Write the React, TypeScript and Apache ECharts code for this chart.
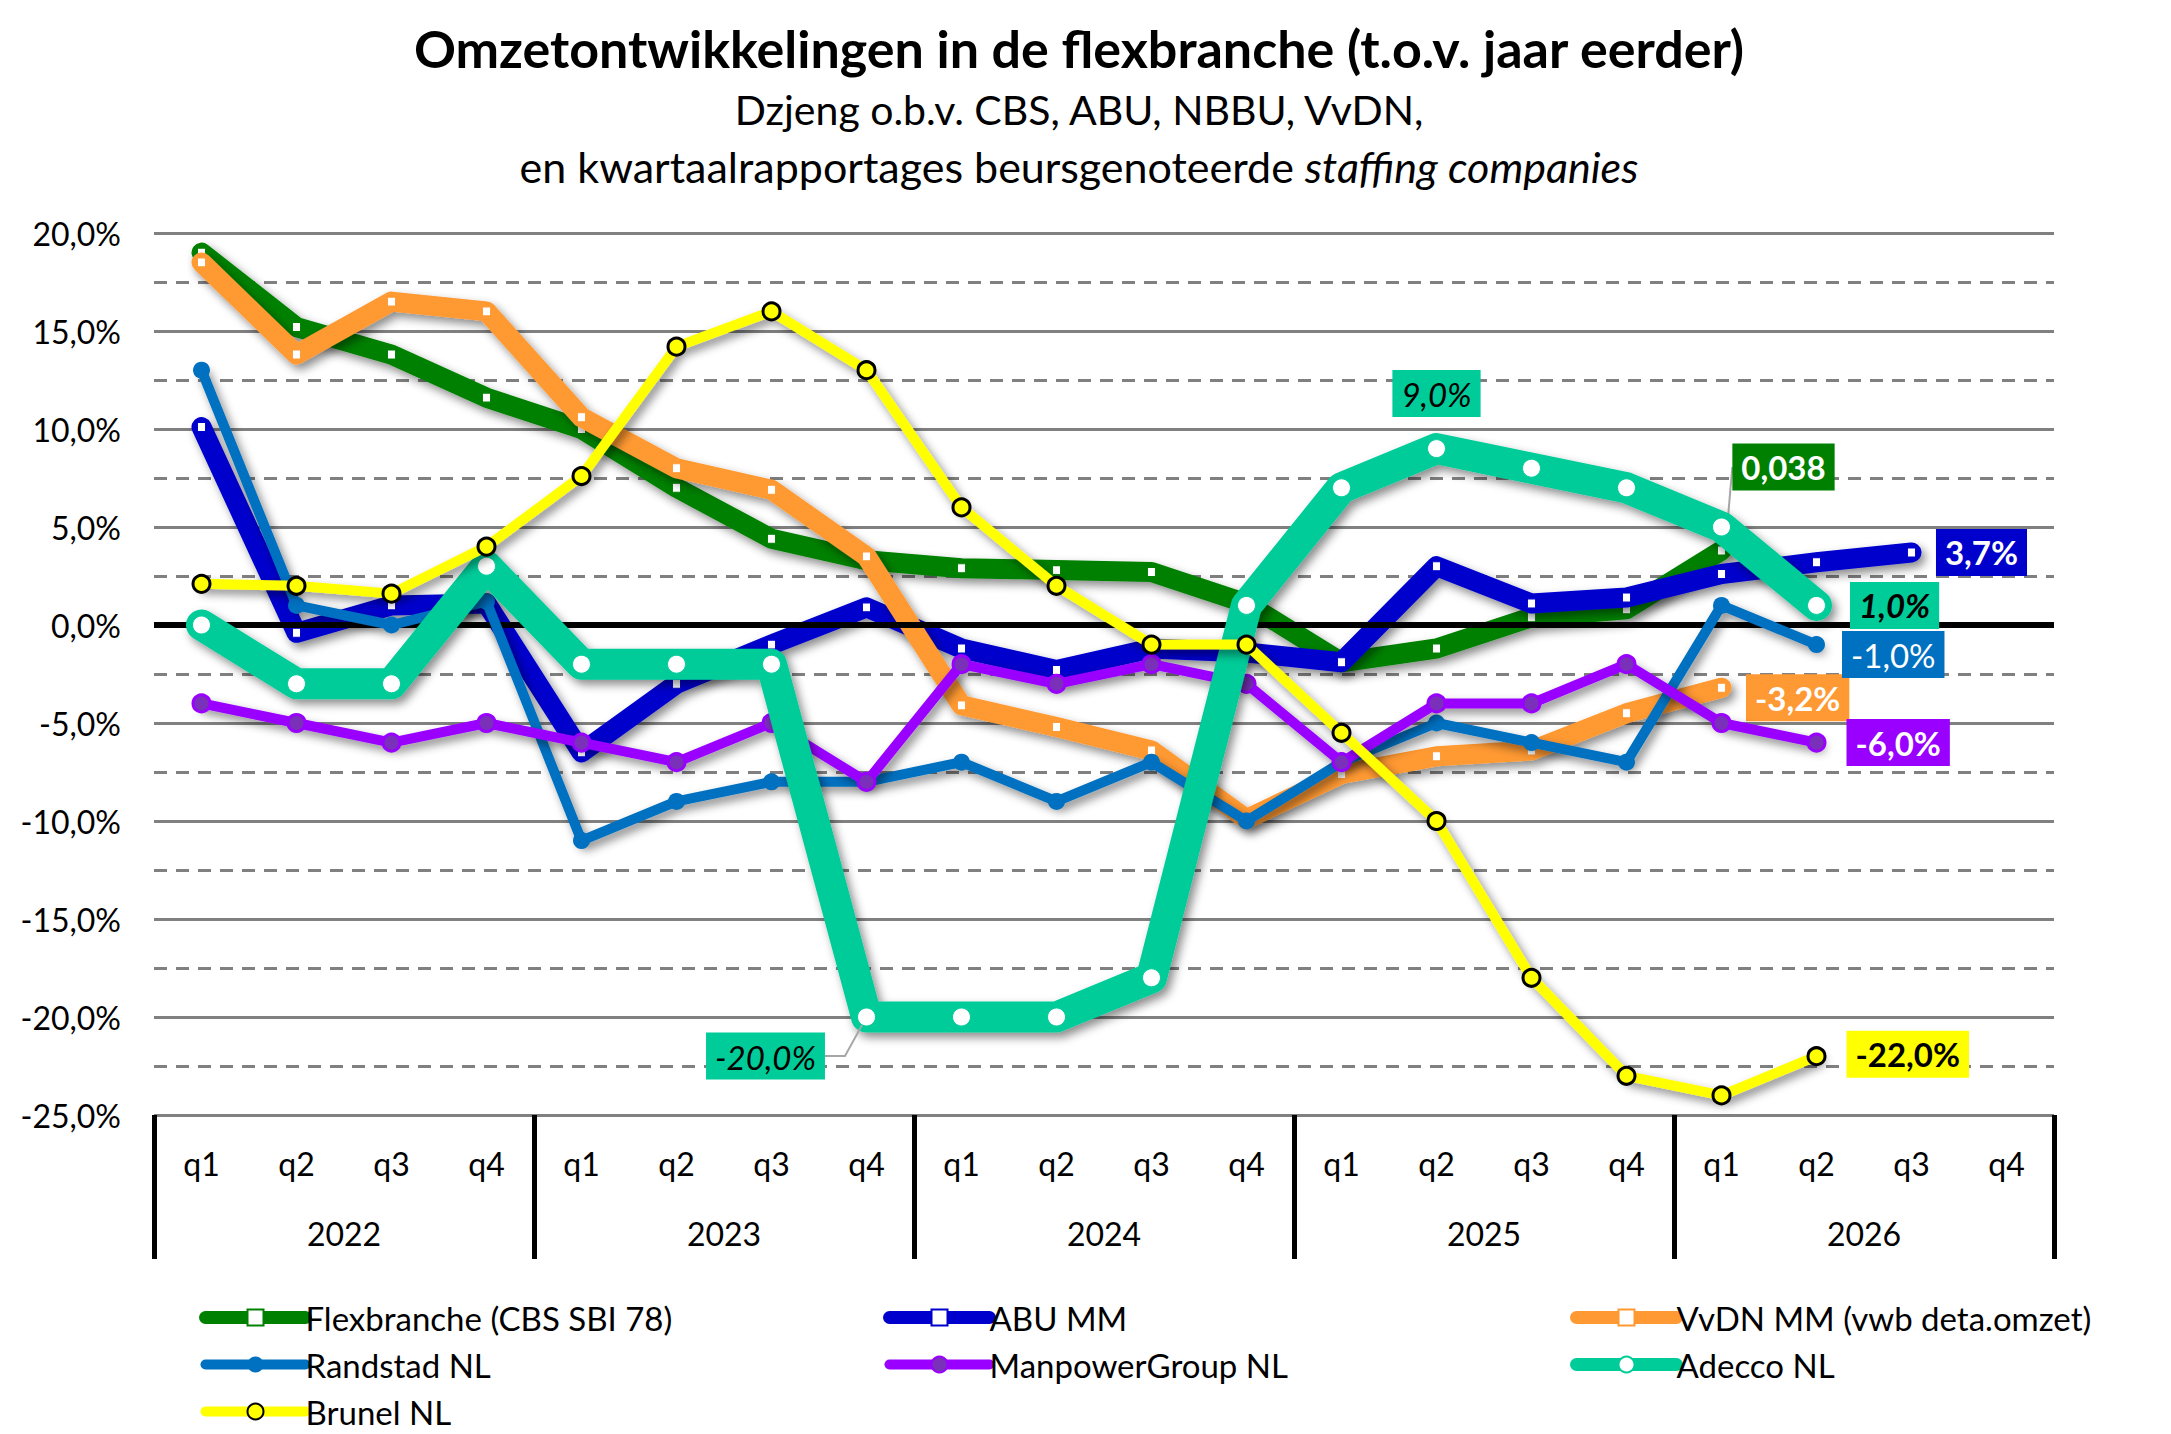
import React, { useEffect, useRef } from "react";
import * as echarts from "echarts";

const FONT = "Lato, 'Noto Sans', sans-serif";

const years = ["2022", "2023", "2024", "2025", "2026"];
const quarters = ["q1", "q2", "q3", "q4"];
const categories = years.flatMap((y) => quarters.map((q) => `${y}-${q}`));

const yTicks = { min: -25, max: 20, interval: 5 };

const flexbranche = [19.0, 15.2, 13.8, 11.6, 10.0, 7.0, 4.4, 3.3, 2.9, 2.8, 2.7, 1.1, -1.9, -1.2, 0.4, 0.8, 3.8, null, null, null];
const abuMM = [10.1, -0.4, 1.0, 1.1, -6.5, -3.0, -1.0, 0.9, -1.2, -2.3, -1.2, -1.4, -1.9, 3.0, 1.1, 1.4, 2.6, 3.2, 3.7, null];
const vvdnMM = [18.5, 13.8, 16.5, 16.0, 10.6, 8.0, 6.9, 3.5, -4.1, -5.2, -6.4, -9.9, -7.6, -6.7, -6.4, -4.5, -3.2, null, null, null];
const randstad = [13.0, 1.0, 0.0, 1.2, -11.0, -9.0, -8.0, -8.0, -7.0, -9.0, -7.0, -10.0, -7.0, -5.0, -6.0, -7.0, 1.0, -1.0, null, null];
const manpower = [-4, -5, -6, -5, -6, -7, -5, -8, -2, -3, -2, -3, -7, -4, -4, -2, -5, -6, null, null];
const adecco = [0, -3, -3, 3, -2, -2, -2, -20, -20, -20, -18, 1, 7, 9, 8, 7, 5, 1, null, null];
const brunel = [2.1, 2.0, 1.6, 4.0, 7.6, 14.2, 16.0, 13.0, 6.0, 2.0, -1.0, -1.0, -5.5, -10.0, -18.0, -23.0, -24.0, -22.0, null, null];

const names = {
  flex: "Flexbranche (CBS SBI 78)",
  abu: "ABU MM",
  vvdn: "VvDN MM (vwb deta.omzet)",
  randstad: "Randstad NL",
  manpower: "ManpowerGroup NL",
  adecco: "Adecco NL",
  brunel: "Brunel NL",
};

const colors = {
  flex: "#008000",
  abu: "#0000CC",
  vvdn: "#FF9933",
  randstad: "#0070C0",
  manpower: "#9900FF",
  adecco: "#00CC99",
  brunel: "#FFFF00",
};

const pct = (v: number) => v.toFixed(1).replace(".", ",") + "%";

const shadow = {
  shadowColor: "rgba(0,0,0,0.45)",
  shadowBlur: 10,
  shadowOffsetX: 4,
  shadowOffsetY: 5,
};

const baseLabel = {
  show: true,
  fontFamily: FONT,
  fontSize: 33,
  lineHeight: 38,
  padding: [5, 9, 4, 9],
};

function mkData(values: (number | null)[], extra: Record<number, any>) {
  return values.map((v, i) => (extra[i] ? { value: v, ...extra[i] } : v));
}

export default function App() {
  const ref = useRef<HTMLDivElement>(null);

  useEffect(() => {
    if (!ref.current) return;
    const chart = echarts.init(ref.current, null, { renderer: "svg" });

    const squareLine = (key: string, values: (number | null)[], width: number, extra: Record<number, any>, z: number, extraOpts: any = {}) => ({
      name: (names as any)[key],
      type: "line",
      z,
      data: mkData(values, extra),
      symbol: "rect",
      symbolSize: [8, 9],
      showAllSymbol: true,
      itemStyle: { color: "#FFFFFF", borderColor: (colors as any)[key], borderWidth: 1 },
      lineStyle: { color: (colors as any)[key], width, join: "round", cap: "round", ...shadow },
      emphasis: { disabled: true },
      ...extraOpts,
    });

    const legendText = { fontSize: 33, lineHeight: 32, color: "#000", fontFamily: FONT, padding: [0, 0, 0, -5] };
    const legendBase = {
      orient: "vertical",
      top: 1301,
      padding: 0,
      itemWidth: 100,
      itemHeight: 20,
      itemGap: 14,
      selectedMode: false,
      textStyle: legendText,
    };

    const option: any = {
      animation: false,
      textStyle: { fontFamily: FONT },
      grid: { left: 154, right: 117, top: 233, bottom: 319, containLabel: false },
      xAxis: [
        {
          type: "category",
          data: categories,
          position: "bottom",
          boundaryGap: true,
          axisLine: { show: false },
          axisTick: { show: false },
          axisLabel: {
            interval: 0,
            margin: 32,
            fontSize: 32,
            color: "#000",
            fontFamily: FONT,
            formatter: (v: string) => v.split("-")[1],
          },
          splitLine: { show: false },
        },
        {
          type: "category",
          data: years,
          position: "bottom",
          offset: 0,
          boundaryGap: true,
          axisLine: { show: false },
          axisTick: { show: true, interval: 0, length: 144, lineStyle: { color: "#000", width: 5 } },
          axisLabel: { interval: 0, margin: 102, fontSize: 32, color: "#000", fontFamily: FONT },
          splitLine: { show: false },
        },
      ],
      yAxis: {
        type: "value",
        min: yTicks.min,
        max: yTicks.max,
        interval: yTicks.interval,
        axisLine: { show: false },
        axisTick: { show: false },
        axisLabel: {
          margin: 33,
          fontSize: 32,
          color: "#000",
          fontFamily: FONT,
          formatter: (v: number) => pct(v),
        },
        splitLine: { show: true, lineStyle: { color: "#808080", width: 3 } },
        minorTick: { show: false, splitNumber: 2 },
        minorSplitLine: { show: true, lineStyle: { color: "#808080", width: 3, type: [13, 9] } },
      },
      legend: [
        {
          ...legendBase,
          left: 199,
          data: [
            { name: names.flex, lineStyle: { width: 13 } },
            { name: names.randstad, lineStyle: { width: 10 } },
            { name: names.brunel, lineStyle: { width: 10 } },
          ],
        },
        {
          ...legendBase,
          left: 883,
          data: [
            { name: names.abu, lineStyle: { width: 13 } },
            { name: names.manpower, lineStyle: { width: 10 } },
          ],
        },
        {
          ...legendBase,
          left: 1570,
          data: [
            { name: names.vvdn, lineStyle: { width: 13 } },
            { name: names.adecco, lineStyle: { width: 13 } },
          ],
        },
      ],
      graphic: [
        {
          type: "text",
          x: 1079,
          y: 48,
          style: {
            text: "Omzetontwikkelingen in de flexbranche (t.o.v. jaar eerder)",
            fontFamily: FONT,
            fontSize: 52,
            fontWeight: "bold",
            fill: "#000",
            textAlign: "center",
            textVerticalAlign: "middle",
          },
        },
        {
          type: "text",
          x: 1079,
          y: 109,
          style: {
            text: "Dzjeng o.b.v. CBS, ABU, NBBU, VvDN,",
            fontFamily: FONT,
            fontSize: 41,
            fill: "#000",
            textAlign: "center",
            textVerticalAlign: "middle",
          },
        },
        {
          type: "text",
          x: 1079,
          y: 166,
          style: {
            text: "{n|en kwartaalrapportages beursgenoteerde }{i|staffing companies}",
            fontFamily: FONT,
            fontSize: 43,
            fill: "#000",
            textAlign: "center",
            textVerticalAlign: "middle",
            rich: {
              n: { fontFamily: FONT, fontSize: 43, fill: "#000" },
              i: { fontFamily: FONT, fontSize: 43, fontStyle: "italic", fill: "#000" },
            },
          },
        },
      ],
      series: [
        {
          name: "zero",
          type: "line",
          z: 1,
          data: [],
          silent: true,
          markLine: {
            silent: true,
            symbol: "none",
            label: { show: false },
            lineStyle: { color: "#000", width: 6, type: "solid" },
            data: [{ yAxis: 0 }],
          },
        },
        squareLine(
          "flex",
          flexbranche,
          20,
          {
            16: {
              label: {
                ...baseLabel,
                position: "top",
                distance: 5,
                formatter: (p: any) => (p.value / 100).toFixed(3).replace(".", ","),
                color: "#FFFFFF",
                fontWeight: "bold",
                backgroundColor: colors.flex,
              },
              labelLine: { show: true, lineStyle: { color: "#A6A6A6", width: 2 } },
            },
          },
          2,
          { labelLayout: { dx: 62, dy: -50 }, labelLine: { show: false } }
        ),
        squareLine(
          "abu",
          abuMM,
          20,
          {
            18: {
              label: {
                ...baseLabel,
                position: "right",
                distance: 20,
                formatter: (p: any) => pct(p.value),
                color: "#FFFFFF",
                fontWeight: "bold",
                backgroundColor: colors.abu,
              },
            },
          },
          3
        ),
        squareLine(
          "vvdn",
          vvdnMM,
          20,
          {
            16: {
              label: {
                ...baseLabel,
                position: "right",
                distance: 20,
                offset: [0, 10],
                formatter: (p: any) => pct(p.value),
                color: "#FFFFFF",
                fontWeight: "bold",
                backgroundColor: colors.vvdn,
              },
            },
          },
          4
        ),
        {
          name: names.randstad,
          type: "line",
          z: 5,
          data: mkData(randstad, {
            17: {
              label: {
                ...baseLabel,
                position: "right",
                distance: 17,
                offset: [0, 10],
                formatter: (p: any) => pct(p.value),
                color: "#FFFFFF",
                backgroundColor: colors.randstad,
              },
            },
          }),
          symbol: "circle",
          symbolSize: 17,
          showAllSymbol: true,
          itemStyle: { color: colors.randstad },
          lineStyle: { color: colors.randstad, width: 10, join: "round", cap: "round", ...shadow },
          emphasis: { disabled: true },
        },
        {
          name: names.manpower,
          type: "line",
          z: 6,
          data: mkData(manpower, {
            17: {
              label: {
                ...baseLabel,
                position: "right",
                distance: 20,
                formatter: (p: any) => pct(p.value),
                color: "#FFFFFF",
                fontWeight: "bold",
                backgroundColor: colors.manpower,
              },
            },
          }),
          symbol: "circle",
          symbolSize: 17,
          showAllSymbol: true,
          itemStyle: { color: "#7A30B8", borderColor: colors.manpower, borderWidth: 3 },
          lineStyle: { color: colors.manpower, width: 10, join: "round", cap: "round", ...shadow },
          emphasis: { disabled: true },
        },
        {
          name: names.adecco,
          type: "line",
          z: 7,
          data: mkData(adecco, {
            7: {
              label: {
                ...baseLabel,
                position: "bottom",
                distance: 5,
                formatter: (p: any) => pct(p.value),
                color: "#000000",
                fontStyle: "italic",
                backgroundColor: colors.adecco,
              },
              labelLine: { show: true, length2: 20, lineStyle: { color: "#A6A6A6", width: 2 } },
            },
            13: {
              label: {
                ...baseLabel,
                position: "top",
                distance: 22,
                formatter: (p: any) => pct(p.value),
                color: "#000000",
                fontStyle: "italic",
                backgroundColor: colors.adecco,
              },
            },
            17: {
              label: {
                ...baseLabel,
                position: "right",
                distance: 24,
                formatter: (p: any) => pct(p.value),
                color: "#000000",
                fontStyle: "italic",
                fontWeight: "bold",
                backgroundColor: colors.adecco,
              },
            },
          }),
          labelLayout: (p: any) => (p.dataIndex === 7 ? { dx: -101, dy: 1 } : {}),
          labelLine: { show: false },
          symbol: "circle",
          symbolSize: 18,
          showAllSymbol: true,
          itemStyle: { color: "#FFFFFF", borderColor: colors.adecco, borderWidth: 1 },
          lineStyle: { color: colors.adecco, width: 31, join: "round", cap: "round", ...shadow },
          emphasis: { disabled: true },
        },
        {
          name: names.brunel,
          type: "line",
          z: 8,
          data: mkData(brunel, {
            17: {
              label: {
                ...baseLabel,
                position: "right",
                distance: 20,
                offset: [0, -2],
                formatter: (p: any) => pct(p.value),
                color: "#000000",
                fontWeight: "bold",
                backgroundColor: colors.brunel,
              },
            },
          }),
          symbol: "circle",
          symbolSize: 17,
          showAllSymbol: true,
          itemStyle: { color: colors.brunel, borderColor: "#000000", borderWidth: 3 },
          lineStyle: { color: colors.brunel, width: 10, join: "round", cap: "round", ...shadow },
          emphasis: { disabled: true },
        },
      ],
    };

    chart.setOption(option);
    return () => chart.dispose();
  }, []);

  return (
    <div
      ref={ref}
      style={{ position: "fixed", left: 0, top: 0, width: 2171, height: 1434, background: "#FFFFFF" }}
    />
  );
}
